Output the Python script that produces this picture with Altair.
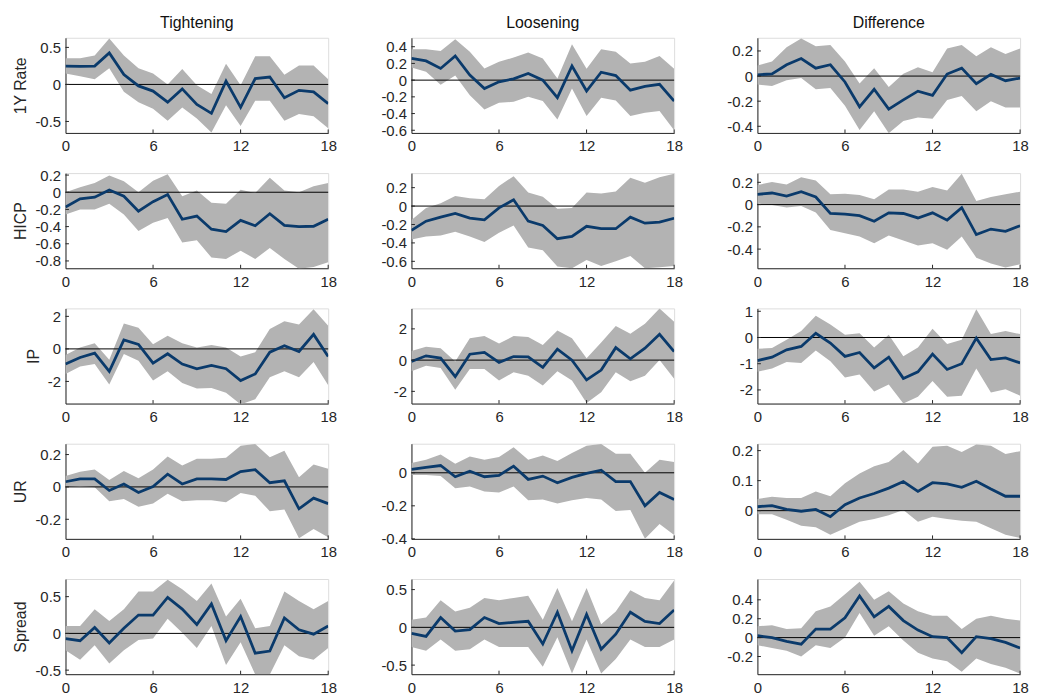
import altair as alt
import pandas as pd

H = list(range(19))

# ---- 1Y Rate ----
RATE_T_MID = [0.248, 0.243, 0.248, 0.425, 0.133, -0.02, -0.09, -0.24, -0.06, -0.27, -0.39, 0.045, -0.31, 0.08, 0.10, -0.18, -0.08, -0.10, -0.26]
RATE_T_HI = [0.354, 0.354, 0.39, 0.62, 0.39, 0.22, 0.146, 0.0, 0.21, -0.01, -0.13, 0.28, -0.01, 0.38, 0.38, 0.13, 0.257, 0.257, 0.07]
RATE_T_LO = [0.146, 0.11, 0.07, 0.22, -0.10, -0.24, -0.33, -0.49, -0.31, -0.46, -0.65, -0.28, -0.56, -0.22, -0.22, -0.49, -0.40, -0.43, -0.59]

RATE_L_MID = [0.26, 0.23, 0.14, 0.29, 0.06, -0.10, -0.02, 0.016, 0.08, 0.0, -0.21, 0.17, -0.13, 0.095, 0.055, -0.12, -0.075, -0.05, -0.25]
RATE_L_HI = [0.37, 0.37, 0.35, 0.49, 0.34, 0.14, 0.22, 0.27, 0.33, 0.26, 0.02, 0.43, 0.135, 0.37, 0.34, 0.20, 0.22, 0.29, 0.135]
RATE_L_LO = [0.15, 0.10, -0.055, 0.055, -0.18, -0.35, -0.27, -0.26, -0.20, -0.25, -0.47, -0.10, -0.43, -0.21, -0.245, -0.43, -0.39, -0.37, -0.60]

RATE_D_MID = [0.01, 0.018, 0.09, 0.14, 0.063, 0.09, -0.047, -0.245, -0.105, -0.263, -0.19, -0.12, -0.153, 0.016, 0.063, -0.06, 0.013, -0.037, -0.016]
RATE_D_HI = [0.084, 0.116, 0.23, 0.30, 0.237, 0.247, 0.116, -0.06, 0.063, -0.087, 0.018, 0.071, 0.03, 0.22, 0.247, 0.158, 0.23, 0.176, 0.22]
RATE_D_LO = [-0.068, -0.079, -0.034, -0.016, -0.105, -0.095, -0.237, -0.43, -0.28, -0.455, -0.358, -0.33, -0.34, -0.19, -0.158, -0.28, -0.20, -0.25, -0.25]

# ---- HICP ----
HICP_T_MID = [-0.173, -0.077, -0.058, 0.027, -0.046, -0.22, -0.11, -0.027, -0.315, -0.277, -0.43, -0.458, -0.327, -0.39, -0.25, -0.385, -0.40, -0.396, -0.315]
HICP_T_HI = [0.0, 0.058, 0.108, 0.196, 0.127, 0.0, 0.135, 0.21, -0.046, 0.02, -0.123, -0.135, 0.03, -0.008, 0.17, 0.02, 0.0, 0.07, 0.108]
HICP_T_LO = [-0.258, -0.20, -0.20, -0.135, -0.258, -0.45, -0.354, -0.30, -0.585, -0.56, -0.76, -0.777, -0.68, -0.777, -0.65, -0.777, -0.89, -0.87, -0.815]

HICP_L_MID = [-0.264, -0.164, -0.12, -0.08, -0.13, -0.15, -0.02, 0.068, -0.164, -0.21, -0.354, -0.33, -0.22, -0.246, -0.246, -0.12, -0.186, -0.175, -0.132]
HICP_L_HI = [-0.15, -0.02, 0.03, 0.11, 0.086, 0.075, 0.218, 0.325, 0.146, 0.10, -0.03, -0.02, 0.146, 0.136, 0.157, 0.307, 0.254, 0.314, 0.35]
HICP_L_LO = [-0.364, -0.33, -0.32, -0.28, -0.33, -0.39, -0.29, -0.21, -0.45, -0.48, -0.657, -0.675, -0.586, -0.65, -0.60, -0.543, -0.675, -0.664, -0.65]

HICP_D_MID = [0.092, 0.104, 0.077, 0.116, 0.068, -0.08, -0.086, -0.10, -0.15, -0.074, -0.08, -0.12, -0.074, -0.14, -0.027, -0.27, -0.22, -0.24, -0.19]
HICP_D_HI = [0.175, 0.204, 0.18, 0.246, 0.216, 0.092, 0.098, 0.086, 0.047, 0.136, 0.136, 0.116, 0.157, 0.127, 0.276, 0.033, 0.068, 0.092, 0.116]
HICP_D_LO = [0.009, -0.003, -0.027, -0.012, -0.071, -0.228, -0.258, -0.287, -0.347, -0.278, -0.323, -0.367, -0.347, -0.406, -0.287, -0.477, -0.53, -0.566, -0.536]

# ---- IP ----
IP_T_MID = [-0.93, -0.53, -0.26, -1.38, 0.55, 0.28, -0.87, -0.30, -0.93, -1.22, -1.02, -1.22, -1.95, -1.54, -0.20, 0.20, -0.16, 0.89, -0.47]
IP_T_HI = [-0.37, 0.08, 0.35, -0.67, 1.56, 1.30, 0.28, 0.81, 0.35, 0.08, 0.24, 0.08, -0.47, -0.20, 1.22, 1.70, 1.50, 2.44, 1.42]
IP_T_LO = [-1.54, -1.08, -0.93, -2.19, -0.32, -0.73, -1.95, -1.38, -2.09, -2.44, -2.40, -2.70, -3.41, -3.10, -1.75, -1.38, -1.75, -0.81, -2.23]

IP_L_MID = [-0.085, 0.275, 0.127, -1.06, 0.38, 0.49, -0.15, 0.23, 0.21, -0.47, 0.70, 0.0, -1.27, -0.635, 0.80, 0.085, 0.76, 1.65, 0.55]
IP_L_HI = [0.59, 0.85, 0.76, -0.085, 1.40, 1.54, 1.06, 1.54, 1.48, 0.97, 1.90, 1.40, 0.127, 1.12, 2.18, 1.69, 2.33, 3.30, 2.45]
IP_L_LO = [-0.72, -0.36, -0.50, -1.90, -0.57, -0.57, -1.31, -0.78, -1.0, -1.63, -0.72, -1.31, -2.75, -2.05, -0.78, -1.35, -1.0, 0.0, -1.20]

IP_D_MID = [-0.88, -0.75, -0.47, -0.34, 0.16, -0.21, -0.72, -0.57, -1.16, -0.75, -1.56, -1.31, -0.63, -1.22, -1.0, -0.025, -0.84, -0.78, -0.97]
IP_D_HI = [-0.43, -0.40, -0.09, 0.25, 0.83, 0.50, 0.10, 0.16, -0.38, 0.10, -0.72, -0.38, 0.33, -0.25, -0.09, 1.08, 0.13, 0.25, 0.13]
IP_D_LO = [-1.31, -1.18, -0.93, -0.97, -0.50, -0.91, -1.53, -1.41, -2.06, -1.79, -2.52, -2.26, -1.66, -2.26, -2.22, -1.18, -2.10, -1.97, -2.22]

# ---- UR ----
UR_T_MID = [0.032, 0.05, 0.05, -0.022, 0.018, -0.034, 0.002, 0.079, 0.018, 0.05, 0.05, 0.046, 0.095, 0.107, 0.026, 0.038, -0.135, -0.069, -0.103]
UR_T_HI = [0.067, 0.093, 0.107, 0.042, 0.099, 0.053, 0.107, 0.188, 0.133, 0.174, 0.174, 0.18, 0.255, 0.265, 0.184, 0.224, 0.059, 0.139, 0.113]
UR_T_LO = [-0.002, 0.006, -0.002, -0.089, -0.075, -0.123, -0.103, -0.042, -0.089, -0.083, -0.083, -0.095, -0.038, -0.055, -0.15, -0.139, -0.317, -0.26, -0.311]

UR_L_MID = [0.02, 0.032, 0.044, -0.024, 0.01, -0.024, -0.016, 0.04, -0.04, -0.02, -0.06, -0.028, -0.004, 0.016, -0.053, -0.053, -0.20, -0.119, -0.162]
UR_L_HI = [0.059, 0.079, 0.11, 0.055, 0.099, 0.079, 0.095, 0.154, 0.079, 0.105, 0.071, 0.119, 0.164, 0.174, 0.115, 0.115, 0.0, 0.079, 0.065]
UR_L_LO = [-0.014, -0.014, -0.02, -0.093, -0.083, -0.113, -0.119, -0.083, -0.166, -0.162, -0.186, -0.166, -0.152, -0.162, -0.232, -0.226, -0.40, -0.31, -0.376]

UR_D_MID = [0.013, 0.017, 0.004, -0.002, 0.004, -0.02, 0.02, 0.042, 0.057, 0.075, 0.097, 0.064, 0.093, 0.089, 0.078, 0.098, 0.072, 0.048, 0.048]
UR_D_HI = [0.039, 0.046, 0.042, 0.042, 0.064, 0.048, 0.091, 0.124, 0.148, 0.162, 0.202, 0.157, 0.213, 0.216, 0.195, 0.22, 0.216, 0.189, 0.198]
UR_D_LO = [-0.012, -0.012, -0.03, -0.05, -0.055, -0.08, -0.059, -0.037, -0.028, -0.015, 0.002, -0.037, -0.02, -0.028, -0.034, -0.037, -0.059, -0.08, -0.091]

# ---- Spread ----
SPR_T_MID = [-0.07, -0.10, 0.08, -0.13, 0.07, 0.25, 0.25, 0.49, 0.33, 0.12, 0.40, -0.10, 0.23, -0.27, -0.24, 0.21, 0.05, -0.01, 0.10]
SPR_T_HI = [0.10, 0.10, 0.33, 0.17, 0.33, 0.57, 0.57, 0.73, 0.60, 0.44, 0.68, 0.23, 0.47, 0.07, 0.10, 0.57, 0.44, 0.33, 0.44]
SPR_T_LO = [-0.23, -0.36, -0.16, -0.41, -0.23, -0.09, -0.07, 0.20, 0.01, -0.20, 0.10, -0.43, -0.12, -0.56, -0.56, -0.16, -0.31, -0.36, -0.20]

SPR_L_MID = [-0.08, -0.12, 0.13, -0.05, -0.03, 0.13, 0.05, 0.065, 0.08, -0.22, 0.20, -0.31, 0.17, -0.29, -0.09, 0.20, 0.08, 0.05, 0.23]
SPR_L_HI = [0.10, 0.13, 0.36, 0.21, 0.26, 0.39, 0.36, 0.39, 0.42, 0.10, 0.52, 0.08, 0.52, 0.04, 0.21, 0.49, 0.39, 0.36, 0.62]
SPR_L_LO = [-0.26, -0.31, -0.16, -0.31, -0.29, -0.16, -0.26, -0.26, -0.26, -0.52, -0.13, -0.61, -0.16, -0.61, -0.42, -0.16, -0.26, -0.26, -0.16]

SPR_D_MID = [0.02, 0.0, -0.04, -0.07, 0.09, 0.09, 0.21, 0.44, 0.22, 0.33, 0.18, 0.08, 0.01, 0.0, -0.16, 0.01, -0.01, -0.05, -0.11]
SPR_D_HI = [0.12, 0.13, 0.09, 0.10, 0.28, 0.33, 0.46, 0.59, 0.40, 0.49, 0.36, 0.28, 0.23, 0.23, 0.09, 0.20, 0.23, 0.20, 0.18]
SPR_D_LO = [-0.08, -0.11, -0.14, -0.20, -0.08, -0.11, 0.0, 0.26, 0.02, 0.12, -0.03, -0.16, -0.22, -0.25, -0.36, -0.22, -0.28, -0.32, -0.38]

COL_TITLES = ["Tightening", "Loosening", "Difference"]
ROW_TITLES = ["1Y Rate", "HICP", "IP", "UR", "Spread"]
X_TICKS = [0, 6, 12, 18]

PANELS = [
    [(RATE_T_MID, RATE_T_LO, RATE_T_HI, [-0.655, 0.63], [-0.5, 0, 0.5]),
     (RATE_L_MID, RATE_L_LO, RATE_L_HI, [-0.632, 0.507], [-0.6, -0.4, -0.2, 0, 0.2, 0.4]),
     (RATE_D_MID, RATE_D_LO, RATE_D_HI, [-0.453, 0.305], [-0.4, -0.2, 0, 0.2])],
    [(HICP_T_MID, HICP_T_LO, HICP_T_HI, [-0.885, 0.223], [-0.8, -0.6, -0.4, -0.2, 0, 0.2]),
     (HICP_L_MID, HICP_L_LO, HICP_L_HI, [-0.675, 0.358], [-0.6, -0.4, -0.2, 0, 0.2]),
     (HICP_D_MID, HICP_D_LO, HICP_D_HI, [-0.572, 0.283], [-0.4, -0.2, 0, 0.2])],
    [(IP_T_MID, IP_T_LO, IP_T_HI, [-3.36, 2.49], [-2, 0, 2]),
     (IP_L_MID, IP_L_LO, IP_L_HI, [-2.78, 3.31], [-2, 0, 2]),
     (IP_D_MID, IP_D_LO, IP_D_HI, [-2.52, 1.11], [-2, -1, 0, 1])],
    [(UR_T_MID, UR_T_LO, UR_T_HI, [-0.321, 0.267], [-0.2, 0, 0.2]),
     (UR_L_MID, UR_L_LO, UR_L_HI, [-0.40, 0.176], [-0.4, -0.2, 0]),
     (UR_D_MID, UR_D_LO, UR_D_HI, [-0.094, 0.223], [0, 0.1, 0.2])],
    [(SPR_T_MID, SPR_T_LO, SPR_T_HI, [-0.555, 0.74], [-0.5, 0, 0.5]),
     (SPR_L_MID, SPR_L_LO, SPR_L_HI, [-0.62, 0.64], [-0.5, 0, 0.5]),
     (SPR_D_MID, SPR_D_LO, SPR_D_HI, [-0.387, 0.62], [-0.2, 0, 0.2, 0.4])],
]

W, HT = 265, 96
BAND = "#b3b3b3"
LINE = "#0a3a6b"
AXC = "#262626"
FONT = "Liberation Sans"


def panel(mid, lo, hi, dom, yticks, ytitle, title):
    df = pd.DataFrame({"h": H, "mid": mid, "lo": lo, "hi": hi})
    xs = alt.Scale(domain=[0, 18], nice=False, zero=False)
    ys = alt.Scale(domain=dom, nice=False, zero=False)
    xax = alt.Axis(values=X_TICKS, title=None, grid=False, ticks=False,
                   labelPadding=6, domainColor=AXC, domainWidth=1,
                   labelColor=AXC, labelFontSize=15, labelFont=FONT,
                   labelFlush=False, labelAngle=0, labelOverlap=False)
    yax_kw = dict(values=yticks, grid=False, ticks=False, labelPadding=5,
                  domainColor=AXC, domainWidth=1, labelColor=AXC,
                  labelFontSize=15, labelFont=FONT, labelOverlap=False,
                  labelExpr="'' + datum.value")
    if ytitle:
        yax = alt.Axis(title=ytitle, titleFont=FONT, titleFontSize=16,
                       titleFontWeight="normal", titleColor=AXC,
                       titlePadding=6, **yax_kw)
    else:
        yax = alt.Axis(title=None, **yax_kw)

    def X(f):
        return alt.X(f, type="quantitative", scale=xs, axis=xax)

    def Y(f):
        return alt.Y(f, type="quantitative", scale=ys, axis=yax)

    base = alt.Chart(df)
    area = base.mark_area(color=BAND, opacity=1, clip=True).encode(
        x=X("h"), y=Y("lo"), y2=alt.Y2("hi"))
    zero = alt.Chart(pd.DataFrame({"z": [0]})).mark_rule(
        color="#000000", strokeWidth=1).encode(y=Y("z"))
    line = base.mark_line(color=LINE, strokeWidth=2.8, clip=True).encode(
        x=X("h"), y=Y("mid"))
    xt = alt.Chart(pd.DataFrame({"t": X_TICKS[1:]})).mark_rule(
        color=AXC, strokeWidth=1).encode(
        x=X("t"), y=alt.value(HT), y2=alt.value(HT - 3.5))
    yt = alt.Chart(pd.DataFrame({"t": yticks})).mark_rule(
        color=AXC, strokeWidth=1).encode(
        y=Y("t"), x=alt.value(0), x2=alt.value(3.5))
    ch = alt.layer(area, zero, line, xt, yt).properties(width=W, height=HT)
    if title:
        ch = ch.properties(title=alt.TitleParams(
            title, font=FONT, fontSize=16, fontWeight="normal",
            color="#111111", offset=7))
    return ch


charts = []
for r, row in enumerate(PANELS):
    for c, (mid, lo, hi, dom, yt) in enumerate(row):
        charts.append(panel(mid, lo, hi, dom, yt,
                            ROW_TITLES[r] if c == 0 else None,
                            COL_TITLES[c] if r == 0 else None))

chart = alt.concat(*charts, columns=3, spacing={"row": 40.5, "column": 84},
                   bounds="flush").properties(
    padding={"left": 4, "top": 3, "right": 2, "bottom": 0}
).configure_view(stroke=None).configure(font=FONT)

chart.save("out.html", embed_options={"renderer": "svg", "actions": False})
